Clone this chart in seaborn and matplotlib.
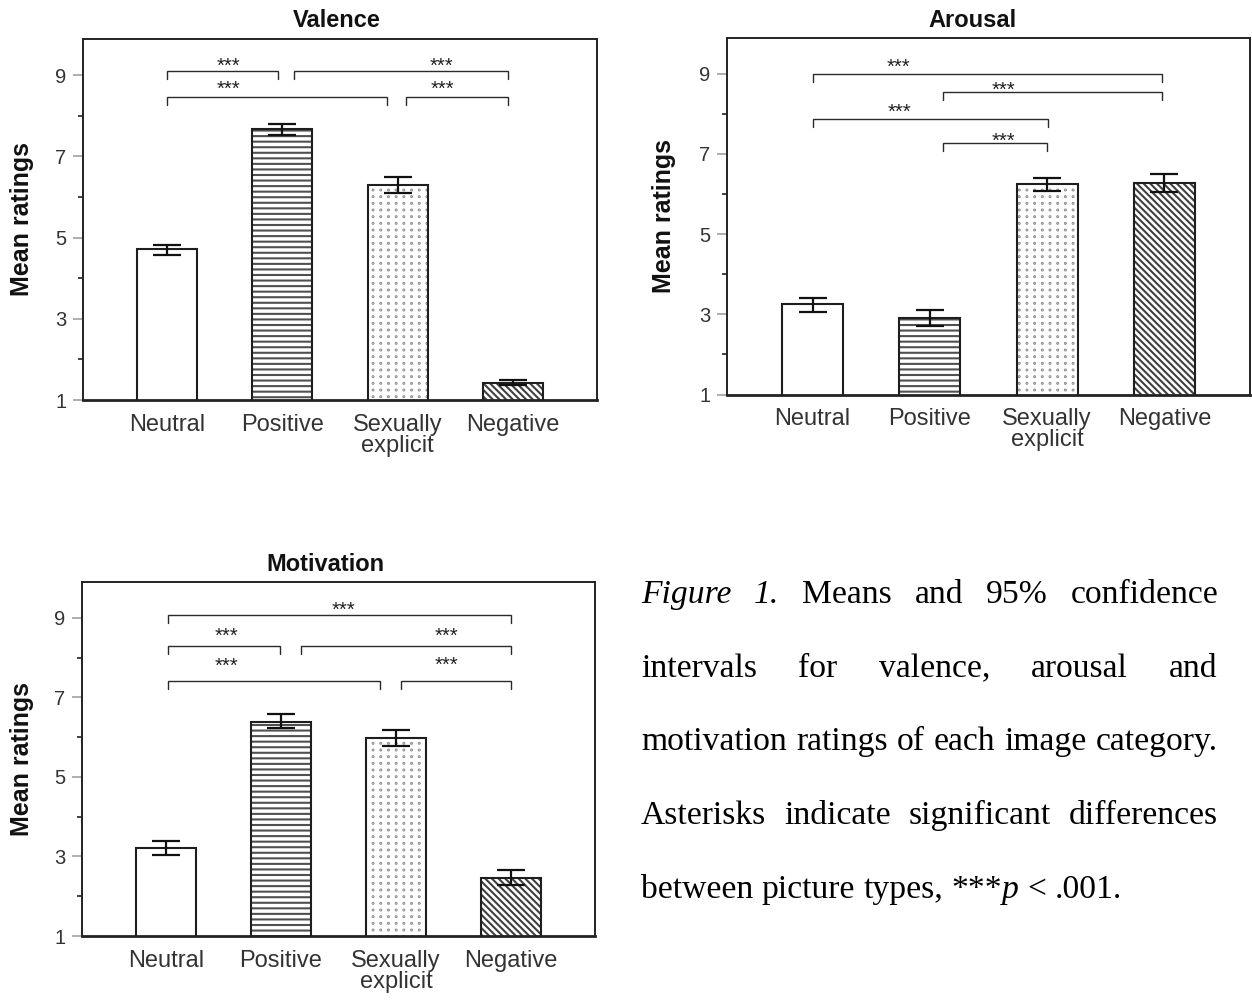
import matplotlib
matplotlib.use("Agg")
import matplotlib.pyplot as plt
import matplotlib.hatch as mhatch
from matplotlib.path import Path
from matplotlib.patches import Rectangle
from matplotlib.ticker import FixedLocator
import numpy as np
import seaborn as sns

# ---------------------------------------------------------------- data
categories = ["Neutral", "Positive", "Sexually\nexplicit", "Negative"]

valence_mean = [4.72, 7.66, 6.30, 1.43]
valence_ci_low = [4.58, 7.52, 6.09, 1.37]
valence_ci_high = [4.82, 7.79, 6.48, 1.49]

arousal_mean = [3.26, 2.92, 6.25, 6.28]
arousal_ci_low = [3.07, 2.72, 6.07, 6.05]
arousal_ci_high = [3.40, 3.11, 6.41, 6.51]

motivation_mean = [3.21, 6.39, 5.98, 2.47]
motivation_ci_low = [3.03, 6.23, 5.77, 2.29]
motivation_ci_high = [3.39, 6.57, 6.18, 2.65]

y_major = [1, 3, 5, 7, 9]
y_minor = [2, 4, 6, 8]

# significant pairwise comparisons (category indices)
valence_pairs = [(0, 1), (1, 3), (0, 2), (2, 3)]
arousal_pairs = [(0, 3), (1, 3), (0, 2), (1, 2)]
motivation_pairs = [(0, 3), (0, 1), (1, 3), (0, 2), (2, 3)]
sig_label = "***"

caption_lines = [
    "_Figure_ _1._ Means and 95% confidence",
    "intervals for valence, arousal and",
    "motivation ratings of each image category.",
    "Asterisks indicate significant differences",
    "between picture types, ***_p_ < .001.",
]


# ---------------------------------------------------------------- dotted fill
class ColumnDots(mhatch.HatchPatternBase):
    """Small dots laid out in aligned columns (used for the 'O' hatch)."""

    def __init__(self, hatch, density):
        n = hatch.count("O")
        self.num_cols = 13 * n
        self.num_rows = 15 * n
        circle = Path.unit_circle()
        self.shape_vertices = circle.vertices
        self.shape_codes = circle.codes
        self.num_vertices = self.num_cols * self.num_rows * len(circle.vertices)

    def set_vertices_and_codes(self, vertices, codes):
        nv = len(self.shape_vertices)
        r = 0.004
        k = 0
        for i in range(self.num_rows):
            for j in range(self.num_cols):
                cx = (j + 0.5) / self.num_cols
                cy = (i + 0.5) / self.num_rows
                vertices[k:k + nv] = self.shape_vertices * r + [cx, cy]
                codes[k:k + nv] = self.shape_codes
                k += nv


dot_hatch = ".."
try:
    mhatch._hatch_types = [ColumnDots if t is mhatch.LargeCircles else t
                           for t in mhatch._hatch_types]
    dot_hatch = "O"
except Exception:
    pass

# ---------------------------------------------------------------- style
sns.set_theme(style="ticks")
plt.rcParams["font.family"] = ["Liberation Sans", "DejaVu Sans"]
plt.rcParams["hatch.linewidth"] = 1.5

hatches = ["", "---", dot_hatch, "\\" * 5]
hatch_colors = ["white", "#505050", "#808080", "#404040"]

fig = plt.figure(figsize=(12.52, 10.02), dpi=100)
W, H = 1252.0, 1002.0


def px_rect(left, top, right, bottom):
    return [left / W, 1 - bottom / H, (right - left) / W, (bottom - top) / H]


# bracket layout per panel: (level, x_left, x_right, star_x, star_y)
panels = [
    dict(title="Valence", mean=valence_mean, lo=valence_ci_low, hi=valence_ci_high,
         pairs=valence_pairs, rect=px_rect(83, 38.5, 597, 400), title_x=0.494,
         label_x=-0.119,
         brackets=[(9.10, 0.00, 0.96, 0.53, 9.37),
                   (9.10, 1.10, 2.96, 2.38, 9.37),
                   (8.46, 0.00, 1.91, 0.53, 8.81),
                   (8.46, 2.07, 2.96, 2.39, 8.81)]),
    dict(title="Arousal", mean=arousal_mean, lo=arousal_ci_low, hi=arousal_ci_high,
         pairs=arousal_pairs, rect=px_rect(727, 37.7, 1250, 394.5), title_x=0.47,
         label_x=-0.120,
         brackets=[(8.99, 0.00, 2.98, 0.73, 9.31),
                   (8.55, 1.11, 2.98, 1.63, 8.75),
                   (7.88, 0.00, 2.01, 0.74, 8.20),
                   (7.28, 1.11, 2.00, 1.63, 7.48)]),
    dict(title="Motivation", mean=motivation_mean, lo=motivation_ci_low, hi=motivation_ci_high,
         pairs=motivation_pairs, rect=px_rect(82, 582, 595, 936), title_x=0.474,
         label_x=-0.117,
         brackets=[(9.08, 0.02, 3.00, 1.54, 9.35),
                   (8.29, 0.02, 0.99, 0.53, 8.68),
                   (8.29, 1.17, 3.00, 2.44, 8.68),
                   (7.42, 0.02, 1.86, 0.53, 7.93),
                   (7.42, 2.04, 3.00, 2.44, 7.95)]),
]

for pnl in panels:
    ax = fig.add_axes(pnl["rect"])
    mean = np.asarray(pnl["mean"])
    lo = np.asarray(pnl["lo"])
    hi = np.asarray(pnl["hi"])

    sns.barplot(x=categories, y=mean, ax=ax, color="white", saturation=1,
                width=0.52, errorbar=None, linewidth=0)
    bars = list(ax.patches)
    for bar, h, hc in zip(bars, hatches, hatch_colors):
        bar.set_facecolor("white")
        bar.set_hatch(h)
        bar.set_edgecolor(hc)
        bar.set_linewidth(0)
    # bar outlines on top of the hatch texture
    for bar in bars:
        ax.add_patch(Rectangle(bar.get_xy(), bar.get_width(), bar.get_height(),
                               fill=False, edgecolor="#1e1e1e", linewidth=1.5,
                               zorder=bar.get_zorder() + 0.1))
    xs = [bar.get_x() + bar.get_width() / 2 for bar in bars]
    ax.errorbar(xs, mean, yerr=[mean - lo, hi - mean], fmt="none",
                ecolor="#111111", elinewidth=1.6, capsize=10, capthick=1.6,
                zorder=5)

    # significance brackets
    for (i, j), (lvl, x0, x1, sx, sy) in zip(pnl["pairs"], pnl["brackets"]):
        leg = 0.2
        ax.plot([x0, x0, x1, x1], [lvl - leg, lvl, lvl, lvl - leg],
                color="#2a2a2a", lw=1.0, solid_joinstyle="miter", zorder=4)
        ax.annotate(sig_label, (sx, sy), xytext=(0, -8.4), textcoords="offset points",
                    ha="center", va="baseline", fontsize=14.5, color="#222222")

    ax.set_xlim(-0.73, 3.73)
    ax.set_ylim(1, 9.9)
    ax.yaxis.set_major_locator(FixedLocator(y_major))
    ax.yaxis.set_minor_locator(FixedLocator(y_minor))
    ax.set_yticklabels([str(v) for v in y_major])

    ax.tick_params(axis="y", which="major", direction="out", length=7, width=1.3,
                   color="#a8a8a8", labelsize=14.5, labelcolor="#333333", pad=5)
    ax.tick_params(axis="y", which="minor", direction="out", length=3.5, width=1.2,
                   color="#222222", left=True)
    ax.tick_params(axis="x", which="both", length=0, labelsize=17,
                   labelcolor="#333333", pad=10)
    for lbl in ax.get_xticklabels():
        lbl.set_linespacing(0.92)

    for side, sp in ax.spines.items():
        sp.set_visible(True)
        sp.set_color("#222222")
        sp.set_linewidth(1.4)
    ax.spines["bottom"].set_linewidth(2.0)

    ax.set_title(pnl["title"], fontsize=17, fontweight="bold", pad=8,
                 x=pnl["title_x"], color="#111111")
    ax.set_ylabel("Mean ratings", fontsize=18, fontweight="bold", color="#111111")
    ax.yaxis.set_label_coords(pnl["label_x"], 0.5)
    ax.yaxis.label.set_verticalalignment("center")
    ax.set_xlabel("")

# ---------------------------------------------------------------- caption
serif = ["Liberation Serif", "DejaVu Serif"]
cap_size = 24.2
cap_left, cap_right = 641.0, 1218.0
cap_baselines = [603, 677, 750, 824, 898]

fig.canvas.draw()
renderer = fig.canvas.get_renderer()


def text_width(s, style):
    t = fig.text(0, 0, s, fontsize=cap_size, family=serif, style=style)
    w = t.get_window_extent(renderer).width
    t.remove()
    return w


def parse_word(word):
    parts = word.split("_")
    return [(p, "italic" if k % 2 else "normal") for k, p in enumerate(parts) if p]


space_w = text_width("a a", "normal") - text_width("aa", "normal")

for n, (line, base) in enumerate(zip(caption_lines, cap_baselines)):
    words = [parse_word(w) for w in line.split(" ")]
    widths = [[text_width(s, st) for s, st in w] for w in words]
    totals = [sum(w) for w in widths]
    last = n == len(caption_lines) - 1
    if last or len(words) == 1:
        gap = space_w
    else:
        gap = (cap_right - cap_left - sum(totals)) / (len(words) - 1)
    x = cap_left
    for segs, ws in zip(words, widths):
        for (s, st), w in zip(segs, ws):
            fig.text(x / W, 1 - base / H, s, fontsize=cap_size, family=serif,
                     style=st, ha="left", va="baseline", color="black")
            x += w
        x += gap

fig.savefig("out.png", dpi=100, facecolor="white")
